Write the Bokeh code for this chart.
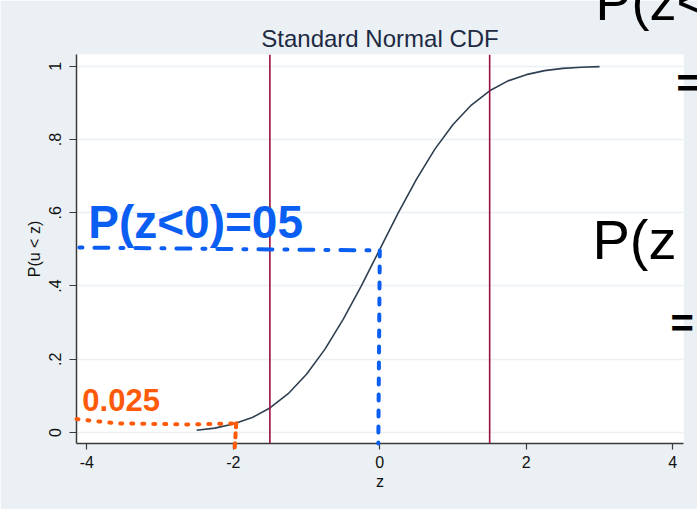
from bokeh.plotting import figure
from bokeh.models import Range1d, FixedTicker, Span
from bokeh.core.properties import value
from bokeh.embed import file_html
from bokeh.resources import INLINE

# ---- data ----
z_vals = [-2.5, -2.25, -2.0, -1.75, -1.5, -1.25, -1.0, -0.75, -0.5, -0.25, 0.0,
          0.25, 0.5, 0.75, 1.0, 1.25, 1.5, 1.75, 2.0, 2.25, 2.5, 2.75, 3.0]
cdf_vals = [0.006, 0.012, 0.023, 0.040, 0.067, 0.106, 0.159, 0.227, 0.309, 0.401, 0.500,
            0.599, 0.691, 0.773, 0.841, 0.894, 0.933, 0.960, 0.977, 0.988, 0.994, 0.997, 0.999]
vlines = [-1.5, 1.5]

x_ticks = [-4, -2, 0, 2, 4]
x_tick_labels = ["-4", "-2", "0", "2", "4"]
y_ticks = [0, 0.2, 0.4, 0.6, 0.8, 1.0]
y_tick_labels = ["0", ".2", ".4", ".6", ".8", "1"]

title_text = "Standard Normal CDF"
x_label = "z"
y_label = "P(u < z)"

# hand-drawn annotations (data units)
blue_h_x = [-4.1, 0.0]
blue_h_y = [0.505, 0.497]
blue_v_x = [0.0, -0.02]
blue_v_y = [0.497, -0.03]
orange_h_x = [-4.14, -3.6, -2.6, -1.96]
orange_h_y = [0.037, 0.025, 0.022, 0.025]
orange_v_x = [-1.96, -1.98]
orange_v_y = [0.025, -0.042]

notes = [
    # text, x, y, color, size, style
    ("P(z<0)=05", -3.98, 0.575, "#0b5ef2", "46px", "bold"),
    ("0.025", -4.06, 0.088, "#ff5a0a", "31px", "bold"),
    ("P(z<", 2.945, 1.177, "#000000", "54px", "normal"),
    ("=", 4.05, 0.954, "#000000", "40px", "bold"),
    ("P(z", 2.904, 0.5265, "#000000", "56px", "normal"),
    ("=", 3.97, 0.298, "#000000", "40px", "bold"),
]

BG = "#eaf0f3"
FONT = "Liberation Sans"

p = figure(width=697, height=509, output_backend="svg", toolbar_location=None,
           x_range=Range1d(-4.14, 4.146), y_range=Range1d(-0.030, 1.032),
           min_border_left=76, min_border_right=14, min_border_top=54, min_border_bottom=66)
p.border_fill_color = BG
p.background_fill_color = "white"
p.outline_line_color = None

p.title.text = title_text
p.title.align = "center"
p.title.text_font = FONT
p.title.text_font_size = "24px"
p.title.text_font_style = "normal"
p.title.text_color = "#1e2a44"
p.title.standoff = 6

# axes
p.xaxis.ticker = FixedTicker(ticks=x_ticks)
p.xaxis.major_label_overrides = {t: l for t, l in zip(x_ticks, x_tick_labels)}
p.yaxis.ticker = FixedTicker(ticks=y_ticks)
p.yaxis.major_label_overrides = {t: l for t, l in zip(y_ticks, y_tick_labels)}
p.yaxis.major_label_orientation = "vertical"
for ax in (p.xaxis, p.yaxis):
    ax.axis_line_color = "#3a3a3a"
    ax.axis_line_width = 1.5
    ax.major_tick_line_color = "#3a3a3a"
    ax.major_tick_line_width = 1.2
    ax.major_tick_in = 0
    ax.minor_tick_line_color = None
    ax.major_label_text_font = FONT
    ax.major_label_text_font_size = "16px"
    ax.major_label_text_color = "#111111"
    ax.axis_label_text_font = FONT
    ax.axis_label_text_font_size = "16px"
    ax.axis_label_text_font_style = "normal"
    ax.axis_label_text_color = "#111111"
p.xaxis.major_tick_out = 6
p.yaxis.major_tick_out = 7
p.xaxis.major_label_standoff = 6
p.yaxis.major_label_standoff = 8
p.xaxis.axis_label = x_label
p.yaxis.axis_label = y_label
p.xaxis.axis_label_standoff = 2
p.yaxis.axis_label_standoff = 4

p.xgrid.grid_line_color = None
p.ygrid.ticker = FixedTicker(ticks=y_ticks)
p.ygrid.grid_line_color = BG
p.ygrid.grid_line_width = 1.5

# vertical reference lines
for v in vlines:
    p.add_layout(Span(location=v, dimension="height", line_color="#9a0f3f", line_width=1.6))

# CDF curve
p.line(z_vals, cdf_vals, line_color="#2e3f52", line_width=1.6)

# hand-drawn annotations (drawn at overlay level so they are not clipped to the frame)
p.line(blue_h_x, blue_h_y, line_color="#0b5ef2", line_width=4, line_dash="3 12 14 12",
       line_cap="round", level="overlay")
p.line(blue_v_x, blue_v_y, line_color="#0b5ef2", line_width=4, line_dash="6 10",
       line_cap="round", level="overlay")
p.line(orange_h_x, orange_h_y, line_color="#ff5a0a", line_width=4, line_dash="2 9",
       line_cap="round", level="overlay")
p.line(orange_v_x, orange_v_y, line_color="#ff5a0a", line_width=4, line_dash="4 6",
       line_cap="round", level="overlay")

for txt, x, y, col, size, style in notes:
    p.text(x=[x], y=[y], text=[txt], text_color=col, text_font=value(FONT),
           text_font_size=value(size), text_font_style=style,
           text_baseline="alphabetic", text_align="left", level="overlay")

open("out.html", "w").write(file_html(p, INLINE))
